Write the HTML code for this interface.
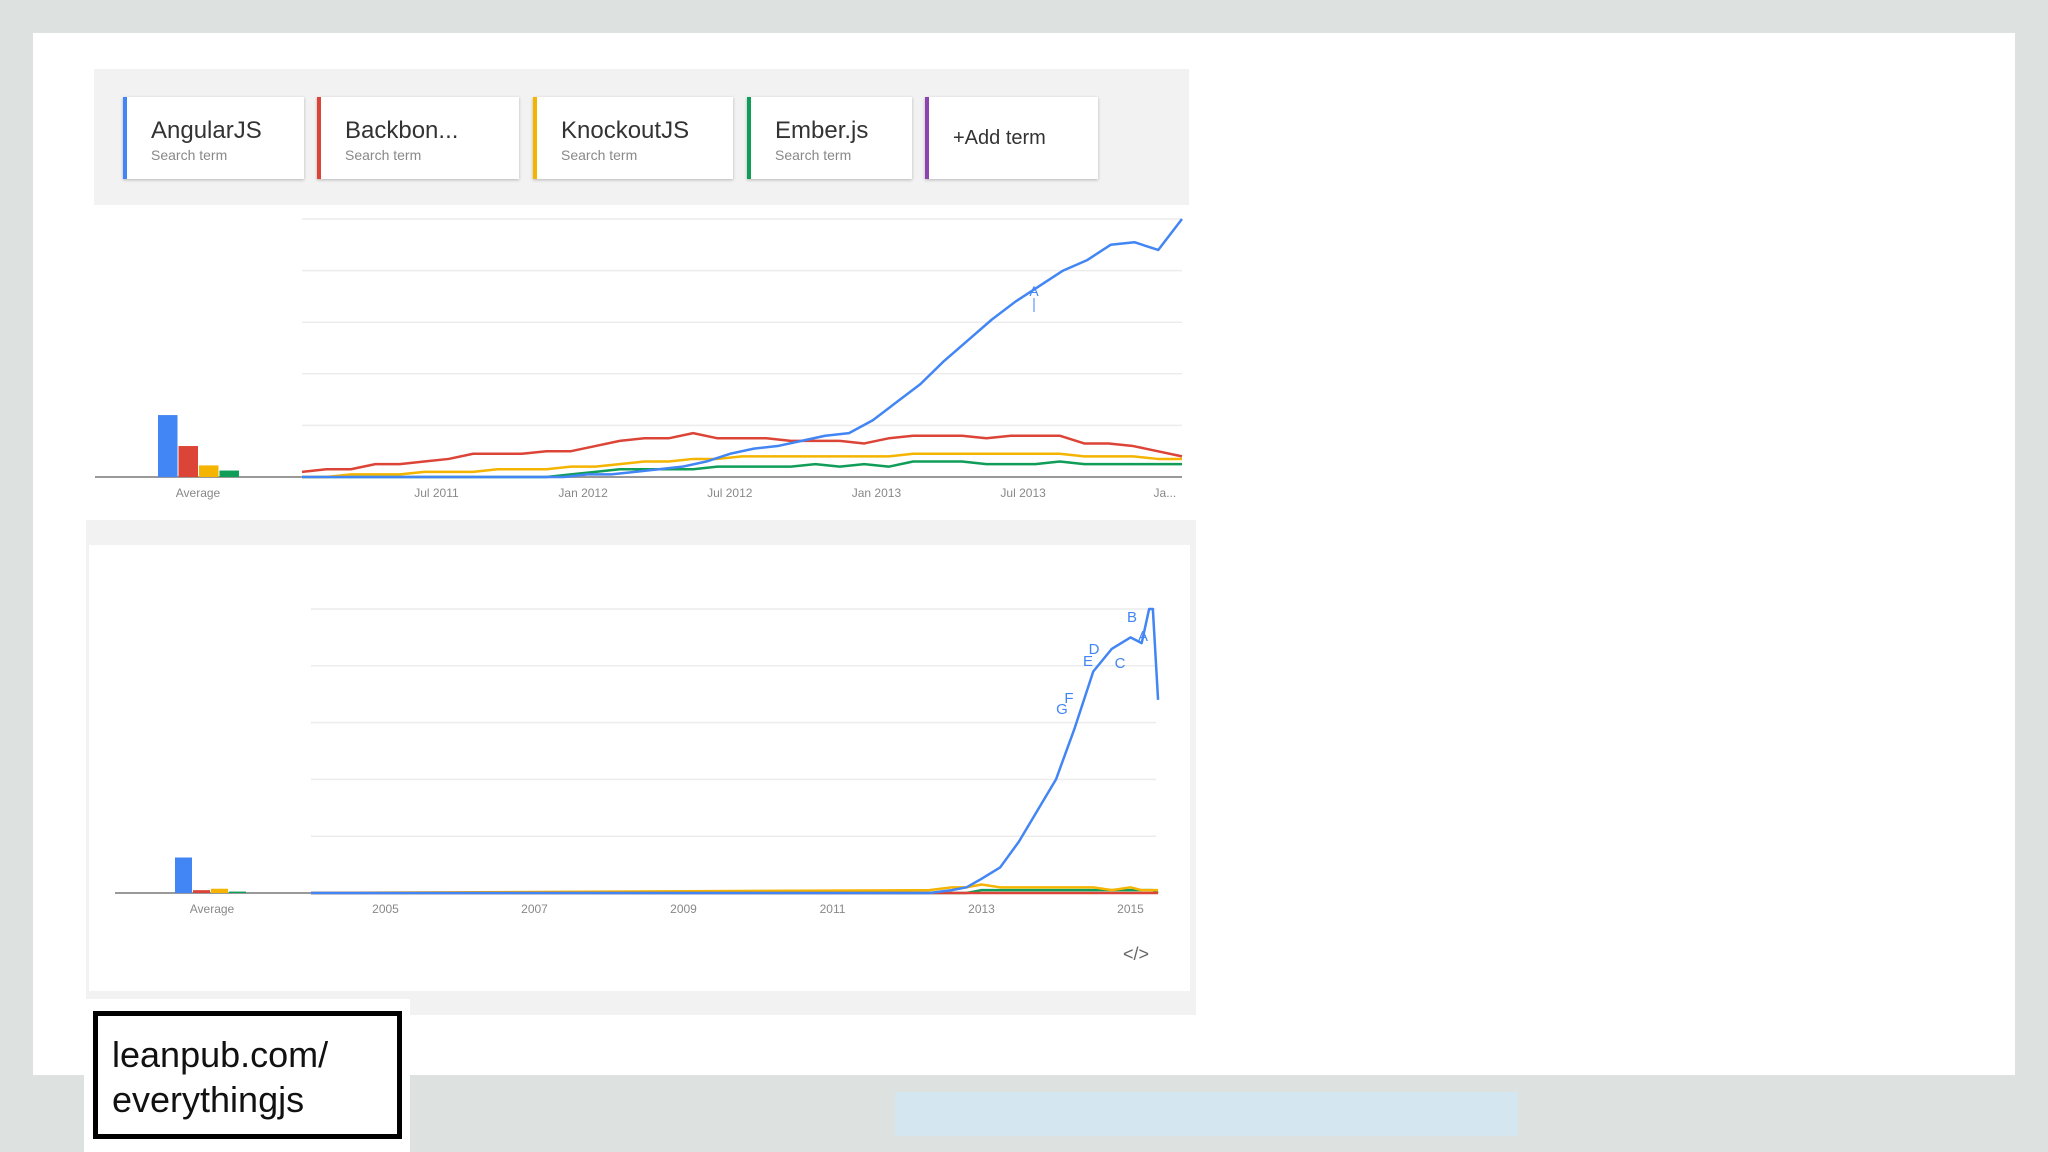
<!DOCTYPE html>
<html><head><meta charset="utf-8">
<style>
body{margin:0;width:2048px;height:1152px;background:#dde2e0;position:relative;overflow:hidden;font-family:"Liberation Sans",sans-serif}
.abs{position:absolute}
.card{position:absolute;top:97px;height:82px;background:#fff;box-shadow:0 1px 3px rgba(0,0,0,.25);box-sizing:border-box;padding:20px 0 0 24px}
.card .t{font-size:24px;color:#333}
.card .s{font-size:14px;color:#888;margin-top:2px}
</style></head><body>
<div class="abs" style="left:33px;top:33px;width:1982px;height:1042px;background:#fff"></div>
<div class="abs" style="left:94px;top:69px;width:1095px;height:136px;background:#f2f2f2"></div>
<div class="card" style="left:123px;width:181px;border-left:4px solid #4285f4"><div class="t">AngularJS</div><div class="s">Search term</div></div>
<div class="card" style="left:317px;width:202px;border-left:4px solid #db4437"><div class="t">Backbon...</div><div class="s">Search term</div></div>
<div class="card" style="left:533px;width:200px;border-left:4px solid #f4b400"><div class="t">KnockoutJS</div><div class="s">Search term</div></div>
<div class="card" style="left:747px;width:165px;border-left:4px solid #0f9d58"><div class="t">Ember.js</div><div class="s">Search term</div></div>
<div class="card" style="left:925px;width:173px;border-left:4px solid #8e44ad;padding-top:30px"><div class="t" style="font-size:20px">+Add term</div></div>
<div class="abs" style="left:86px;top:520px;width:1110px;height:495px;background:#f2f2f2"></div>
<div class="abs" style="left:89px;top:545px;width:1101px;height:446px;background:#fff"></div>
<div class="abs" style="left:84px;top:999px;width:326px;height:153px;background:#fff"></div>
<div class="abs" style="left:93px;top:1011px;width:309px;height:128px;border:5px solid #000;box-sizing:border-box;padding:16px 0 0 14px;font-size:36px;line-height:45px;color:#111">leanpub.com/<br>everythingjs</div>
<div class="abs" style="left:895px;top:1092px;width:623px;height:44px;background:#d4e6ef"></div>
<svg class="abs" style="left:0;top:0" width="2048" height="1152" id="svg"></svg>
<script>
// Chart 1 data (monthly Feb 2011 .. Feb 2014)
const c1Ticks=["Jul 2011","Jan 2012","Jul 2012","Jan 2013","Jul 2013","Ja..."];
const c1TickIdx=[5.5,11.5,17.5,23.5,29.5,35.3];
const c1Angular=[0,0,0,0,0,0,0,0,0,0,0,0,1,1,2,3,4,6,9,11,12,14,16,17,22,29,36,45,53,61,68,74,80,84,90,91,88,100];
const c1Backbone=[2,3,3,5,5,6,7,9,9,9,10,10,12,14,15,15,17,15,15,15,14,14,14,13,15,16,16,16,15,16,16,16,13,13,12,10,8];
const c1Knockout=[0,0,1,1,1,2,2,2,3,3,3,4,4,5,6,6,7,7,8,8,8,8,8,8,8,9,9,9,9,9,9,9,8,8,8,7,7];
const c1Ember=[0,0,0,0,0,0,0,0,0,0,0,1,2,3,3,3,3,4,4,4,4,5,4,5,4,6,6,6,5,5,5,6,5,5,5,5,5];
const c1Avg=[24,12,4.5,2.5];
// Chart 2 data (years)
const c2Ticks=["2005","2007","2009","2011","2013","2015"];
const c2TickYear=[2005,2007,2009,2011,2013,2015];
const c2Dates=[2004,2012.3,2012.6,2012.8,2013,2013.25,2013.5,2013.75,2014,2014.25,2014.5,2014.75,2015,2015.15,2015.25,2015.3,2015.37];
const c2Angular=[0,0,1,2,5,9,18,29,40,58,78,86,90,88,100,100,68];
const c2Knockout=[0,1,2,2,3,2,2,2,2,2,2,1,2,1,1,1,1];
const c2Ember=[0,0,0,0,1,1,1,1,1,1,1,1,1,1,1,1,0];
const c2Backbone=[0,0,0,0,0,0,0,0,0,0,0,0,0,0,0,0,0];
const c2Avg=[12.5,1,1.5,0.5];
const colors=["#4285f4","#db4437","#f4b400","#0f9d58"];
const svg=document.getElementById('svg');
const NS="http://www.w3.org/2000/svg";
function mk(t,a,p){const e=document.createElementNS(NS,t);for(const k in a)e.setAttribute(k,a[k]);(p||svg).appendChild(e);return e;}
function chart(cfg){
  const y=v=>cfg.base-(v/100)*(cfg.base-cfg.top);
  for(let i=0;i<5;i++){const gy=cfg.top+i*(cfg.base-cfg.top)/5;
    const g=mk('line',{x1:cfg.x0,x2:cfg.x1,y1:gy,y2:gy,stroke:'#ececec','stroke-width':1.5});
    }
  const ax=mk('line',{x1:cfg.axStart,x2:cfg.x1,y1:cfg.base,y2:cfg.base,stroke:'#999','stroke-width':2});
  
  cfg.avg.forEach((v,i)=>{const r=mk('rect',{x:cfg.barX+i*cfg.barW,y:y(v),width:cfg.barW-1,height:cfg.base-y(v),fill:colors[i]});
    });
  const al=mk('text',{x:cfg.avgLabelX,y:cfg.base+20,'font-size':12,fill:'#888','text-anchor':'middle'});al.textContent='Average';
  
  cfg.ticks.forEach((t,i)=>{const tx=mk('text',{x:cfg.xs(cfg.tickPos[i]),y:cfg.base+20,'font-size':12,fill:'#888','text-anchor':'middle'});tx.textContent=t;
    });
  [3,2,1,0].forEach(s=>{const d=cfg.series[s];const xv=cfg.xvals[s];
    const pts=d.map((v,i)=>cfg.xs(xv(i))+','+y(v)).join(' ');
    const pl=mk('polyline',{points:pts,fill:'none',stroke:colors[s],'stroke-width':cfg.sw,'stroke-linejoin':'round'});
    });
  return y;
}
// chart 1
const c1xs=i=>302+i*(1182-302)/36;
const idx=i=>i;
chart({x0:302,x1:1182,top:219,base:477,axStart:95,avg:c1Avg,barX:158,barW:20.5,avgLabelX:198,
  ticks:c1Ticks,tickPos:c1TickIdx,xs:c1xs,series:[c1Angular,c1Backbone,c1Knockout,c1Ember],
  xvals:[i=>i*36/(c1Angular.length-1),idx,idx,idx],sw:2.5});
const a1=mk('text',{x:1034,y:296,'font-size':14,fill:'#4285f4','text-anchor':'middle'});a1.textContent='A';

mk('line',{x1:1034,x2:1034,y1:298,y2:312,stroke:'#4285f4','stroke-width':1});
// chart 2
const c2xs=t=>311+(t-2004)*74.5;
const dt=i=>c2Dates[i];
chart({x0:311,x1:1156,top:609,base:893,axStart:115,avg:c2Avg,barX:175,barW:18,avgLabelX:212,
  ticks:c2Ticks,tickPos:c2TickYear,xs:c2xs,series:[c2Angular,c2Backbone,c2Knockout,c2Ember],
  xvals:[dt,dt,dt,dt],sw:2.5});
const notes=[["G",1062,714],["F",1069,703],["E",1088,666],["D",1094,654],["C",1120,668],["B",1132,622],["A",1143,641]];
notes.forEach(n=>{const t=mk('text',{x:n[1],y:n[2],'font-size':15,fill:'#4285f4','text-anchor':'middle'});t.textContent=n[0];
  });
const emb=mk('text',{x:1136,y:960,'font-size':18,fill:'#666','text-anchor':'middle'});emb.textContent='</>';

</script>
</body></html>
